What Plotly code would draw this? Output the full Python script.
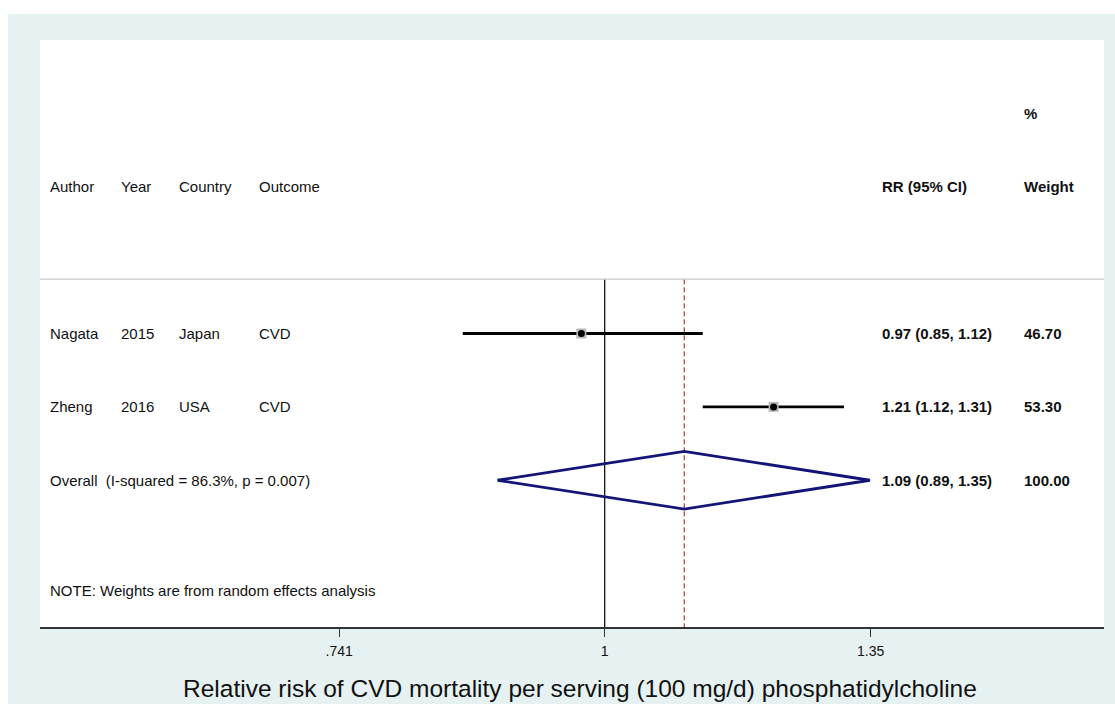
import math
import plotly.graph_objects as go

# ---------------- data ----------------
authors = ["Nagata", "Zheng"]
years = ["2015", "2016"]
countries = ["Japan", "USA"]
outcomes = ["CVD", "CVD"]
rr = [0.974, 1.21]
rr_lo = [0.852, 1.117]
rr_hi = [1.117, 1.31]
rr_text = ["0.97 (0.85, 1.12)", "1.21 (1.12, 1.31)"]
weights = ["46.70", "53.30"]

overall_label = "Overall  (I-squared = 86.3%, p = 0.007)"
overall_rr = 1.094
overall_lo = 0.886
overall_hi = 1.349
overall_text = "1.09 (0.89, 1.35)"
overall_weight = "100.00"

tick_vals = [0.741, 1.0, 1.35]
tick_text = [".741", "1", "1.35"]

note = "NOTE: Weights are from random effects analysis"
x_title = "Relative risk of CVD mortality per serving (100 mg/d) phosphatidylcholine"

# ---------------- layout constants ----------------
W, H = 1115, 704
ML, MR, MT, MB = 40, 11, 40, 77
PW = W - ML - MR
PH = H - MT - MB
BG = "#e6f1f1"
FONT = "Liberation Sans, Arial, sans-serif"
TXT = "#111111"


def px(page_x):
    # page x of text start -> paper coordinate (annotation adds ~2px padding)
    return (page_x - 2 - ML) / PW


fig = go.Figure()

rows = [1, 2]
overall_row = 3
header_line_y = 0.26

# reference line at 1 and dashed overall line
fig.add_trace(go.Scatter(x=[1, 1], y=[header_line_y, 5], mode="lines",
                         line=dict(color="#000000", width=1.2),
                         hoverinfo="skip", showlegend=False))
fig.add_trace(go.Scatter(x=[overall_rr, overall_rr], y=[header_line_y, 5], mode="lines",
                         line=dict(color="#b5484c", width=1.3, dash="5px,3px"),
                         hoverinfo="skip", showlegend=False))

# CI lines
for i, r in enumerate(rows):
    fig.add_trace(go.Scatter(x=[rr_lo[i], rr_hi[i]], y=[r, r], mode="lines",
                             line=dict(color="#000000", width=2.8),
                             hoverinfo="skip", showlegend=False))

# weight boxes and points
fig.add_trace(go.Scatter(x=rr, y=rows, mode="markers",
                         marker=dict(symbol="square", size=10, color="#b8b8b8", line=dict(width=0)),
                         hoverinfo="skip", showlegend=False))
fig.add_trace(go.Scatter(x=rr, y=rows, mode="markers",
                         marker=dict(symbol="circle", size=7, color="#000000"),
                         hoverinfo="skip", showlegend=False))

# overall diamond
hh = 0.392
fig.add_trace(go.Scatter(
    x=[overall_lo, overall_rr, overall_hi, overall_rr, overall_lo],
    y=[overall_row, overall_row - hh, overall_row, overall_row + hh, overall_row],
    mode="lines", line=dict(color="#141478", width=2.8),
    hoverinfo="skip", showlegend=False))

ann = []


def add_text(xpix, y, text, bold=False, size=15):
    ann.append(dict(x=px(xpix), xref="paper", y=y, yref="y", text=("<b>%s</b>" % text) if bold else text,
                    showarrow=False, xanchor="left", yanchor="middle",
                    font=dict(family=FONT, size=size, color=TXT)))


col_x = [50, 121, 179, 259]
rr_x = 882
w_x = 1024

# header
for cx, t in zip(col_x, ["Author", "Year", "Country", "Outcome"]):
    add_text(cx, -1, t)
add_text(rr_x, -1, "RR (95% CI)", bold=True)
add_text(w_x, -2, "%", bold=True)
add_text(w_x, -1, "Weight", bold=True)

# study rows
for i, r in enumerate(rows):
    for cx, t in zip(col_x, [authors[i], years[i], countries[i], outcomes[i]]):
        add_text(cx, r, t)
    add_text(rr_x, r, rr_text[i], bold=True)
    add_text(w_x, r, weights[i], bold=True)

add_text(col_x[0], overall_row, overall_label)
add_text(rr_x, overall_row, overall_text, bold=True)
add_text(w_x, overall_row, overall_weight, bold=True)

add_text(col_x[0], 4.5, note, size=15)

# x-axis title as an annotation (centred slightly right of the plot centre, as in the original)
ann.append(dict(x=(579.5 - ML) / PW, xref="paper", y=-(688 - (MT + PH)) / PH, yref="paper",
                text=x_title, showarrow=False, xanchor="center", yanchor="middle",
                font=dict(family=FONT, size=24.5, color=TXT)))

# axis range (log10) from pixel geometry: 1 at page x=604.7, 886 px per ln unit
ppl = 886.0
x_left = (ML - 604.7) / ppl / math.log(10)
x_right = (W - MR - 604.7) / ppl / math.log(10)

shapes = [
    # white page strips (top and left)
    dict(type="rect", xref="paper", yref="paper", x0=-ML / PW, x1=(W - ML) / PW,
         y0=1 + (MT - 14) / PH, y1=1 + MT / PH,
         fillcolor="#ffffff", line=dict(width=0), layer="below"),
    dict(type="rect", xref="paper", yref="paper", x0=-ML / PW, x1=(8 - ML) / PW,
         y0=-MB / PH, y1=1 + MT / PH,
         fillcolor="#ffffff", line=dict(width=0), layer="below"),
    # header separator
    dict(type="line", xref="paper", yref="y", x0=0, x1=1, y0=header_line_y, y1=header_line_y,
         line=dict(color="#c8c8c8", width=1.3)),
]

fig.update_layout(
    width=W, height=H,
    margin=dict(l=ML, r=MR, t=MT, b=MB, pad=0, autoexpand=False),
    paper_bgcolor=BG, plot_bgcolor="#ffffff",
    showlegend=False,
    annotations=ann, shapes=shapes,
    xaxis=dict(type="log", range=[x_left, x_right], tickmode="array",
               tickvals=tick_vals, ticktext=tick_text, automargin=False,
               showgrid=False, zeroline=False, showline=True, linecolor="#333333", linewidth=1.5,
               ticks="outside", ticklen=8, tickwidth=1.3, tickcolor="#333333",
               ticklabelstandoff=2,
               tickfont=dict(family=FONT, size=14, color=TXT),
               fixedrange=True),
    yaxis=dict(range=[5, -3], visible=False, fixedrange=True, automargin=False),
)

fig.write_html("out.html", config={"displayModeBar": False},
               post_script="document.body.style.margin='0px';document.body.style.overflow='hidden';")
